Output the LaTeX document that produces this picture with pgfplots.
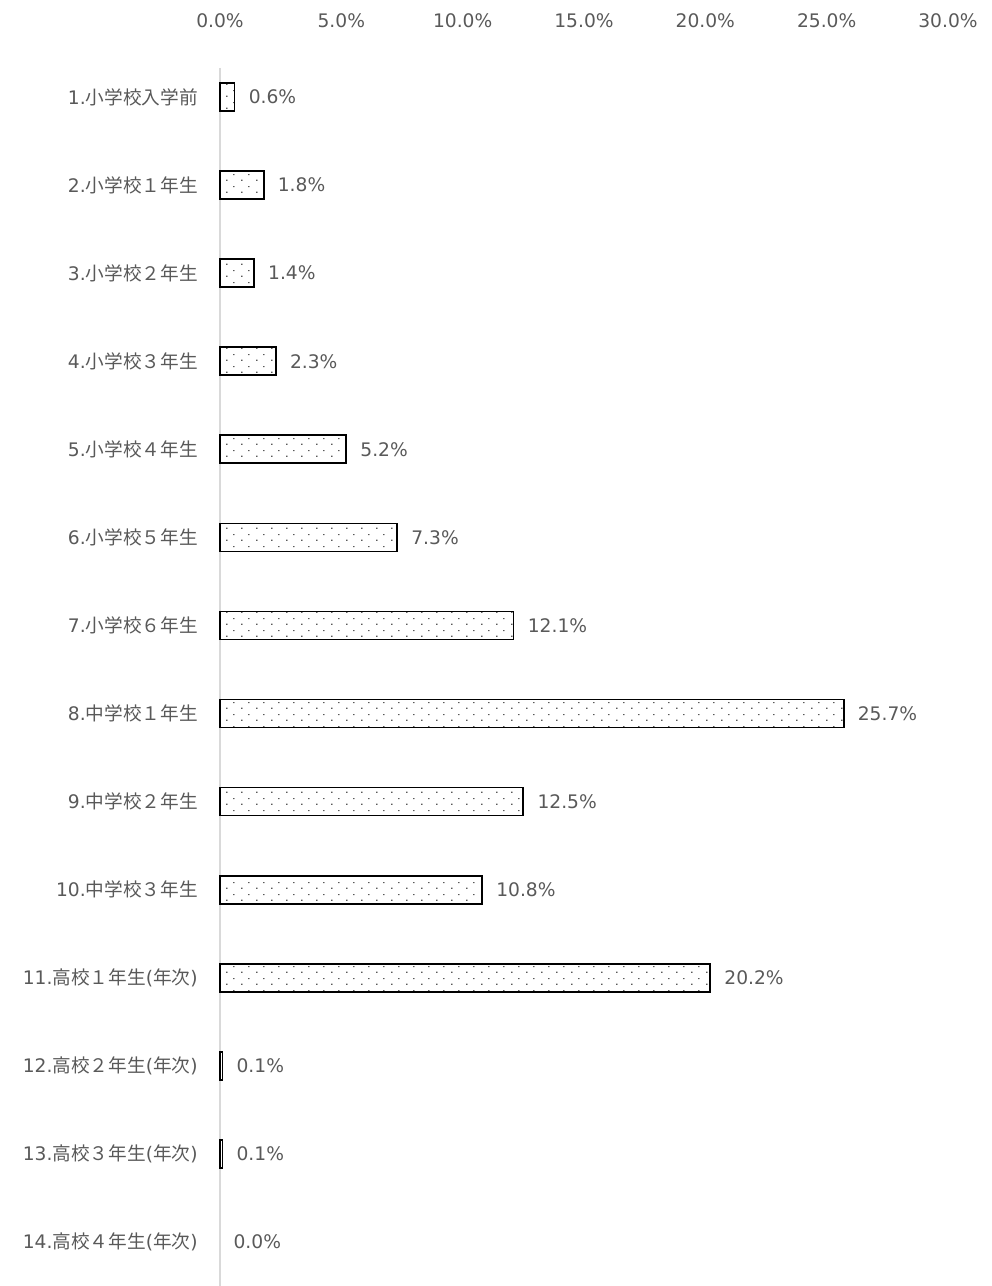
\documentclass[border=0pt]{standalone}
\usepackage{pgfplots}
\pgfplotsset{compat=1.18}
\usepackage{fontspec}
\setmainfont{DejaVu Sans}
\newfontfamily\cjk{Noto Sans CJK JP}
\usetikzlibrary{patterns.meta}
\definecolor{txt}{HTML}{595959}
\definecolor{axgray}{HTML}{D9D9D9}
\pgfdeclarepattern{
  name=sparsedots, type=uncolored,
  bottom left={\pgfpoint{0pt}{0pt}},
  top right={\pgfpoint{11.25pt}{9pt}},
  tile size={\pgfpoint{11.25pt}{9pt}},
  code={
    \pgfpathrectangle{\pgfpoint{1pt}{1pt}}{\pgfpoint{0.9pt}{0.9pt}}
    \pgfpathrectangle{\pgfpoint{6.6pt}{5.5pt}}{\pgfpoint{0.9pt}{0.9pt}}
    \pgfusepath{fill}
  }
}
\pgfplotstableread{
y x
1 0.6
2 1.8
3 1.4
4 2.3
5 5.2
6 7.3
7 12.1
8 25.7
9 12.5
10 10.8
11 20.2
12 0.1
13 0.1
}\bars
\pgfplotstableread{
y x
14 0.0
}\zerobar
\begin{document}
\begin{tikzpicture}
\useasboundingbox (-165pt,0pt) rectangle (579pt,964.5pt);
\begin{axis}[
  at={(0pt,0pt)}, anchor=south west,
  scale only axis,
  width=546pt, height=924.75pt,
  xmin=0, xmax=30,
  ymin=0.5, ymax=14.5,
  y dir=reverse,
  xbar, bar width=21pt, bar shift=0pt,
  axis line style={draw=none},
  major tick length=0pt,
  xtick={0,5,...,30},
  xticklabel pos=upper,
  xticklabel={\pgfmathprintnumber[fixed,fixed zerofill,precision=1,assume math mode=true]{\tick}\%},
  xticklabel style={anchor=south, inner sep=0pt, yshift=19pt},
  ytick={1,...,14},
  yticklabels={
    {1.{\cjk 小学校入学前}},
    {2.{\cjk 小学校１年生}},
    {3.{\cjk 小学校２年生}},
    {4.{\cjk 小学校３年生}},
    {5.{\cjk 小学校４年生}},
    {6.{\cjk 小学校５年生}},
    {7.{\cjk 小学校６年生}},
    {8.{\cjk 中学校１年生}},
    {9.{\cjk 中学校２年生}},
    {10.{\cjk 中学校３年生}},
    {11.{\cjk 高校１年生}({\cjk 年次})},
    {12.{\cjk 高校２年生}({\cjk 年次})},
    {13.{\cjk 高校３年生}({\cjk 年次})},
    {14.{\cjk 高校４年生}({\cjk 年次})}},
  yticklabel style={anchor=east, inner sep=0pt, xshift=-16.5pt},
  tick label style={font=\fontsize{14pt}{16pt}\selectfont, text=txt},
  nodes near coords={\pgfmathprintnumber[fixed,fixed zerofill,precision=1,assume math mode=true]{\pgfplotspointmeta}\%},
  nodes near coords align={horizontal},
  every node near coord/.style={anchor=west, inner sep=0pt, xshift=10pt, font=\fontsize{14pt}{16pt}\selectfont, text=txt},
  clip=false,
]
\draw[axgray, line width=1.5pt] (axis cs:0,0.67) -- (axis cs:0,14.5);
\addplot[draw=black, line width=1.3pt, pattern={sparsedots}, pattern color=black] table[x=x,y=y] {\bars};
\addplot[draw=none, fill=none] table[x=x,y=y] {\zerobar};
\end{axis}
\end{tikzpicture}
\end{document}
